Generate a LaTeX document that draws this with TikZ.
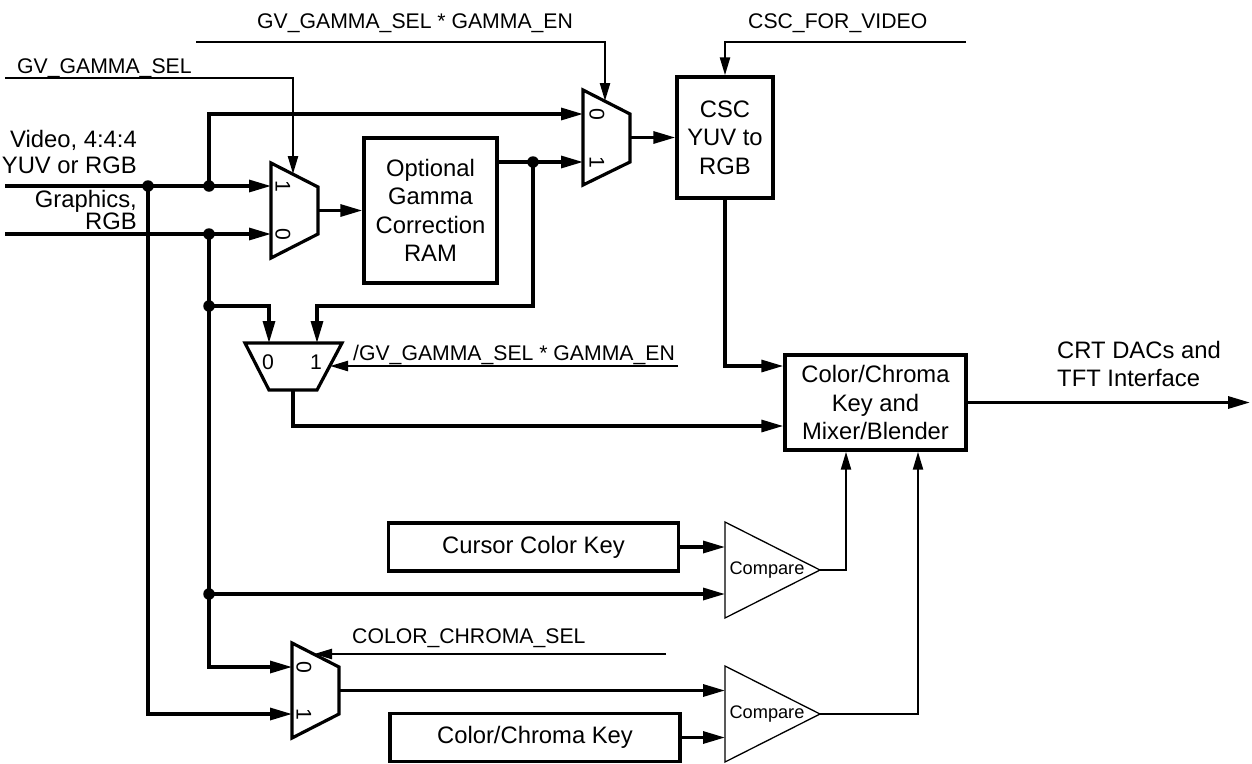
\documentclass[tikz,border=0pt]{standalone}
\usepackage{fontspec}
\setmainfont{Liberation Sans}
\usetikzlibrary{arrows.meta}
\newcommand\blockfont{\fontsize{23.8}{28.5}\selectfont}
\newcommand\siglabel{\fontsize{21.2}{24}\selectfont}
\newcommand\cmpfont{\fontsize{18.2}{20}\selectfont}
\tikzset{
  wire/.style={line width=3.2pt},
  sel/.style={line width=2.4pt},
  thinw/.style={line width=2.2pt},
  arr/.style={-{Triangle[length=22pt,width=12pt]}},
  sarr/.style={-{Triangle[length=18pt,width=10pt]}},
  blk/.style={draw, line width=3.4pt, align=center, font=\blockfont, inner sep=0pt},
  muxshape/.style={line width=3.2pt},
  cmpshape/.style={line width=1.3pt},
  dot/.style={circle, fill=black, inner sep=0pt, minimum size=11.5pt},
  lbl/.style={font=\siglabel, inner sep=0pt},
  biglbl/.style={font=\blockfont, inner sep=0pt},
}
\begin{document}
\begin{tikzpicture}[x=1pt,y=-1pt,line join=miter]
\useasboundingbox (0,0) rectangle (1252,763);

% ---- blocks
\node[blk, minimum width=133pt, minimum height=145pt] (gam) at (430.5,210.5) {Optional\\Gamma\\Correction\\RAM};
\node[blk, minimum width=96pt, minimum height=121pt] (csc) at (725,137.5) {CSC\\YUV to\\RGB};
\node[blk, minimum width=181pt, minimum height=95pt] (mix) at (875.5,402.5) {Color/Chroma\\Key and\\Mixer/Blender};
\node[blk, minimum width=290pt, minimum height=48pt] (cur) at (533.5,547) {Cursor Color Key};
\node[blk, minimum width=290pt, minimum height=48pt] (cck) at (535,737.5) {Color/Chroma Key};

% ---- multiplexers
\draw[muxshape] (271,163) -- (318,187) -- (318,234) -- (271,258) -- cycle;
\draw[muxshape] (583,90) -- (630,114) -- (630,162) -- (583,185) -- cycle;
\draw[muxshape] (245,343) -- (342,343) -- (317,390) -- (269,390) -- cycle;
\draw[muxshape] (292,643) -- (339,667) -- (339,714) -- (292,738) -- cycle;

\node[lbl, rotate=-90] (m1l1) at (283,186) {1};
\node[lbl, rotate=-90] (m1l0) at (283,234) {0};
\node[lbl, rotate=-90] (m2l0) at (597,114) {0};
\node[lbl, rotate=-90] (m2l1) at (597,162) {1};
\node[lbl] (m3l0) at (268,362) {0};
\node[lbl] (m3l1) at (316,362) {1};
\node[lbl, rotate=-90] (m4l0) at (304,667) {0};
\node[lbl, rotate=-90] (m4l1) at (304,714) {1};

% ---- comparators
\draw[cmpshape] (725,522) -- (820,570) -- (725,618) -- cycle;
\draw[cmpshape] (725,666) -- (820,714) -- (725,762) -- cycle;
\node[font=\cmpfont, inner sep=0pt] (cmp1) at (767,570) {Compare};
\node[font=\cmpfont, inner sep=0pt] (cmp2) at (767,714) {Compare};

% ---- port coordinates
\coordinate (m1i1) at (271,186);
\coordinate (m1i0) at (271,234);
\coordinate (m1s) at (293,174);
\coordinate (m1o) at (318,210.5);
\coordinate (m2i0) at (583,114);
\coordinate (m2i1) at (583,162);
\coordinate (m2s) at (605,101);
\coordinate (m2o) at (630,137.5);
\coordinate (m3i0) at (269,343);
\coordinate (m3i1) at (317,343);
\coordinate (m3s) at (330,366);
\coordinate (m3o) at (293,390);
\coordinate (m4i0) at (292,667);
\coordinate (m4i1) at (292,714);
\coordinate (m4s) at (314,654);
\coordinate (m4o) at (339,690.5);
\coordinate (c1a) at (725,547);
\coordinate (c1b) at (725,594);
\coordinate (c1o) at (820,570);
\coordinate (c2a) at (725,690.5);
\coordinate (c2b) at (725,737.5);
\coordinate (c2o) at (820,714);
\coordinate (vin) at (5,186);
\coordinate (gin) at (5,234);
\coordinate (s1a) at (196,42);
\coordinate (s2a) at (5,78);
\coordinate (s3a) at (966,42);
\coordinate (s4a) at (678,366);
\coordinate (s5a) at (666,654);
\coordinate (k1) at (533,306);
\coordinate (y426) at (0,426);
\coordinate (x846) at (846,0);
\coordinate (x918) at (918,0);
\coordinate (out) at (1250,402.5);

% ---- junction dots
\node[dot] (d1) at (148,186) {};
\node[dot] (d2) at (209,186) {};
\node[dot] (d3) at (209,234) {};
\node[dot] (d4) at (209,306) {};
\node[dot] (d5) at (209,594) {};
\node[dot] (d6) at (533,162) {};

% ---- select signals
\draw[sel,sarr] (s1a) -| (m2s);
\draw[sel,sarr] (s2a) -| (m1s);
\draw[sel,sarr] (s3a) -| (csc.north);
\draw[sel,sarr] (s4a) -- (m3s);
\draw[sel,sarr] (s5a) -- (m4s);

% ---- data paths
\draw[wire,arr] (vin) -- (m1i1);
\draw[wire,arr] (gin) -- (m1i0);
\draw[wire,arr] (d2.center) |- (m2i0);
\draw[wire,arr] (d3.center) |- (m4i0);
\draw[wire,arr] (d4.center) -| (m3i0);
\draw[wire,arr] (d5.center) -- (c1b);
\draw[wire,arr] (d1.center) |- (m4i1);
\draw[wire,arr] (m1o) -- (gam.west);
\draw[wire,arr] (gam.east |- m2i1) -- (m2i1);
\draw[wire,arr] (d6.center) -- (k1) -| (m3i1);
\draw[wire,arr] (m2o) -- (csc.west);
\draw[wire,arr] (csc.south) |- (mix.west |- m3s);
\draw[wire,arr] (m3o) |- (mix.west |- y426);
\draw[wire,arr] (cur.east) -- (c1a);
\draw[wire,arr] (cck.east) -- (c2b);
\draw[wire,arr] (m4o) -- (c2a);
\draw[thinw,sarr] (c1o) -| (mix.south -| x846);
\draw[thinw,sarr] (c2o) -| (mix.south -| x918);
\draw[wire,arr] (mix.east) -- (out);

% ---- labels
\node[lbl, anchor=base west] (t1) at (257,28) {GV\_GAMMA\_SEL * GAMMA\_EN};
\node[lbl, anchor=base west] (t2) at (17,73) {GV\_GAMMA\_SEL};
\node[lbl, anchor=base west] (t3) at (748,28) {CSC\_FOR\_VIDEO};
\node[lbl, anchor=base west] (t4) at (353,360) {/GV\_GAMMA\_SEL * GAMMA\_EN};
\node[lbl, anchor=base west] (t5) at (352,643) {COLOR\_CHROMA\_SEL};
\node[biglbl, anchor=base east] (v1) at (137,147) {Video, 4:4:4};
\node[biglbl, anchor=base east] (v2) at (137,173) {YUV or RGB};
\node[biglbl, anchor=base east] (g1) at (137,207) {Graphics,};
\node[biglbl, anchor=base east] (g2) at (137,229) {RGB};
\node[biglbl, anchor=base west] (o1) at (1057,358) {CRT DACs and};
\node[biglbl, anchor=base west] (o2) at (1057,386) {TFT Interface};
\end{tikzpicture}
\end{document}
